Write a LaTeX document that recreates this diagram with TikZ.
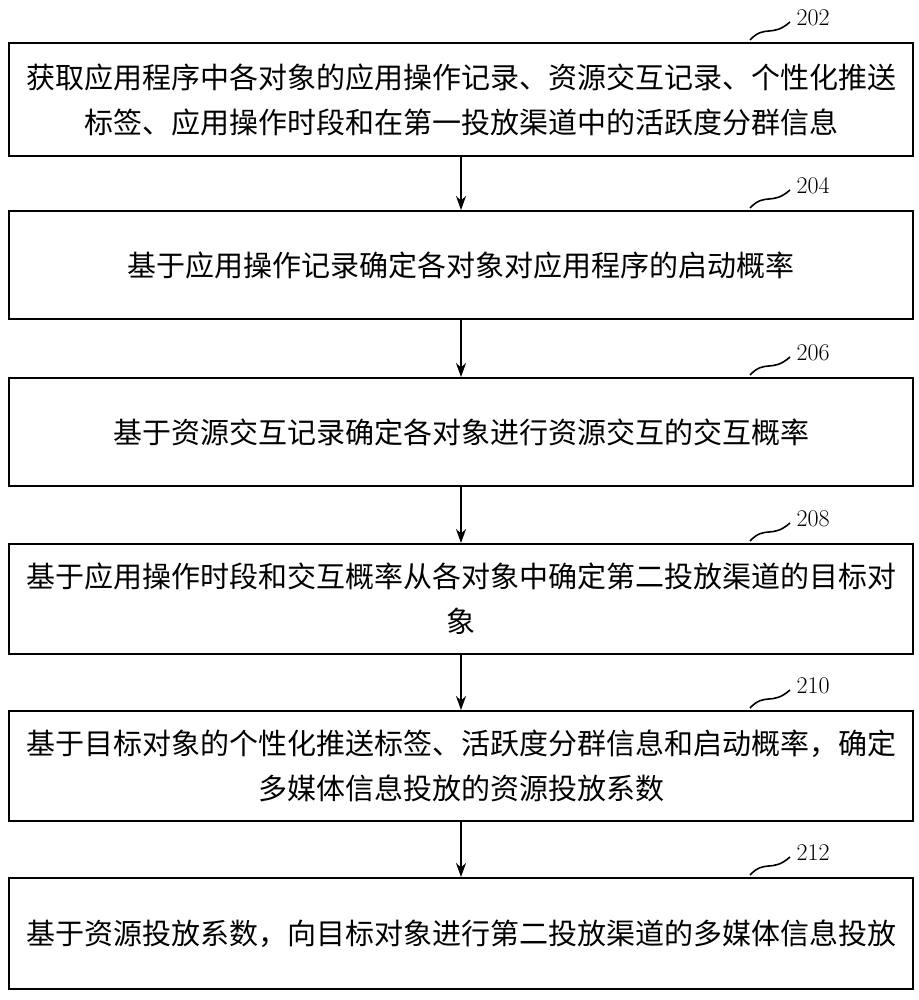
\documentclass[tikz,border=0pt]{standalone}
\usepackage{fontspec}
\usetikzlibrary{arrows.meta}
\newfontfamily\cjk{Noto Sans CJK SC}
\begin{document}
\begin{tikzpicture}[x=1pt,y=-1pt,
  stepbox/.style={draw,line width=2pt,minimum width=904pt,inner sep=0pt,align=center,font=\cjk\fontsize{29}{45}\selectfont,anchor=north west},
  arr/.style={line width=2pt,-{Stealth[length=14pt,width=10pt]}},
  lab/.style={font=\fontsize{24}{26}\selectfont}]
\useasboundingbox (0,0) rectangle (918,1000);
\node[stepbox,minimum height=113pt] (b1) at (8,42) {获取应用程序中各对象的应用操作记录、资源交互记录、个性化推送\\标签、应用操作时段和在第一投放渠道中的活跃度分群信息};
\node[stepbox,minimum height=108pt] (b2) at (8,210) {基于应用操作记录确定各对象对应用程序的启动概率};
\node[stepbox,minimum height=108pt] (b3) at (8,377) {基于资源交互记录确定各对象进行资源交互的交互概率};
\node[stepbox,minimum height=110pt] (b4) at (8,543) {基于应用操作时段和交互概率从各对象中确定第二投放渠道的目标对\\象};
\node[stepbox,minimum height=110pt] (b5) at (8,710) {基于目标对象的个性化推送标签、活跃度分群信息和启动概率，确定\\多媒体信息投放的资源投放系数};
\node[stepbox,minimum height=111pt] (b6) at (8,877) {基于资源投放系数，向目标对象进行第二投放渠道的多媒体信息投放};
\foreach \a/\b in {b1/b2,b2/b3,b3/b4,b4/b5,b5/b6} \draw[arr] (\a.south) -- (\b.north);
\foreach \b/\t/\y in {b1/202/18,b2/204/186,b3/206/353,b4/208/519,b5/210/686,b6/212/853}{
  \node[lab,anchor=west] (l\t) at (793,\y) {\t};
  \draw[line width=1.6pt] (750,\y+22) .. controls (765,\y+6) and (772,\y+20) .. (790,\y+4);
}
\end{tikzpicture}
\end{document}
